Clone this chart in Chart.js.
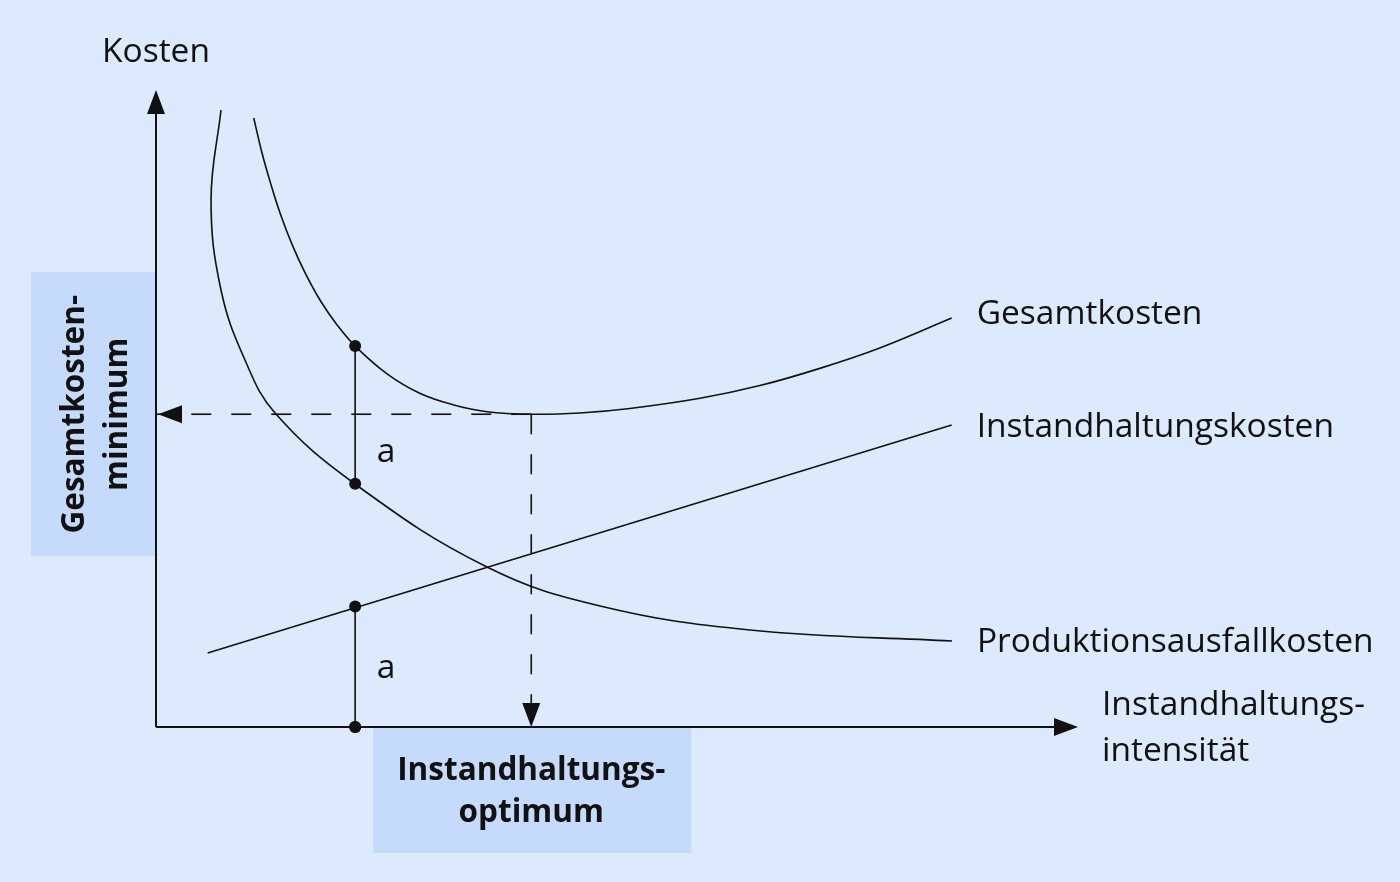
<!DOCTYPE html>
<html>
<head>
<meta charset="utf-8">
<script src="https://cdn.jsdelivr.net/npm/chart.js"></script>
<style>
  body { margin: 0; background: #dde9fd; }
  #wrap { width: 1400px; height: 882px; }
</style>
</head>
<body>
<div id="wrap"><canvas id="chart"></canvas></div>
<script>
// Werte in Diagramm-Einheiten: x = Instandhaltungsintensität (0..100), y = Kosten (0..100)
const produktion = [
  {x: 7.05, y: 96.86}, {x: 5.97, y: 82.73}, {x: 7.05, y: 68.60}, {x: 9.65, y: 57.61},
  {x: 12.91, y: 49.29}, {x: 21.58, y: 38.15}, {x: 35.90, y: 25.12}, {x: 48.16, y: 19.00},
  {x: 64.43, y: 15.23}, {x: 86.33, y: 13.50}
];
const gesamt = [
  {x: 10.6, y: 95.6}, {x: 11.5, y: 90.1}, {x: 12.4, y: 85.5}, {x: 13.5, y: 80.5},
  {x: 14.8, y: 75.6}, {x: 16.2, y: 71.2}, {x: 17.8, y: 67.0}, {x: 19.6, y: 63.2},
  {x: 21.6, y: 59.8}, {x: 25.1, y: 55.4}, {x: 28.6, y: 52.4}, {x: 32.2, y: 50.6},
  {x: 35.9, y: 49.5}, {x: 40.6, y: 49.1}, {x: 46.0, y: 49.3}, {x: 51.4, y: 50.0},
  {x: 59.0, y: 51.6}, {x: 65.5, y: 53.6}, {x: 72.0, y: 56.3}, {x: 78.5, y: 59.5},
  {x: 86.3, y: 64.2}
];
const instandhaltung = [{x: 5.6, y: 11.6}, {x: 86.3, y: 47.4}];

const markerX = 21.6;
const markerY = [59.8, 38.2, 18.9, 0];
const aLabels = [{x: 21.6, y: 43.2}, {x: 21.6, y: 9.2}];
const optimum = {x: 40.7, y: 49.1};

const curveNames = ['Gesamtkosten', 'Instandhaltungskosten', 'Produktionsausfallkosten'];
const yAxisTitle = 'Kosten';
const xAxisTitle = ['Instandhaltungs-', 'intensität'];
const minBoxText = ['Gesamtkosten-', 'minimum'];
const optBoxText = ['Instandhaltungs-', 'optimum'];

const BG = '#dde9fd';
const BOX = '#c6dafc';
const INK = '#111111';
const FONT = '"Open Sans", "Noto Sans", sans-serif';

function arrowHead(ctx, x, y, angle) {
  ctx.save();
  ctx.translate(x, y);
  ctx.rotate(angle);
  ctx.beginPath();
  ctx.moveTo(0, 0);
  ctx.lineTo(-24, -9);
  ctx.lineTo(-24, 9);
  ctx.closePath();
  ctx.fill();
  ctx.restore();
}

const diagram = {
  id: 'diagram',
  beforeDraw(chart) {
    const {ctx, scales: {x: sx, y: sy}} = chart;
    const ox = sx.getPixelForValue(optimum.x);
    const oy = sy.getPixelForValue(optimum.y);
    const x0 = sx.getPixelForValue(0);
    const y0 = sy.getPixelForValue(0);
    ctx.save();
    ctx.fillStyle = BG;
    ctx.fillRect(0, 0, chart.width, chart.height);
    ctx.fillStyle = BOX;
    ctx.fillRect(x0 - 125, oy - 142, 125, 284);
    ctx.fillRect(ox - 158, y0, 318, 126);
    ctx.restore();
  },
  afterDatasetsDraw(chart) {
    const {ctx, chartArea, scales: {x: sx, y: sy}} = chart;
    const x0 = sx.getPixelForValue(0);
    const y0 = sy.getPixelForValue(0);
    const ox = sx.getPixelForValue(optimum.x);
    const oy = sy.getPixelForValue(optimum.y);
    ctx.save();
    ctx.strokeStyle = INK;
    ctx.fillStyle = INK;

    // Achsen
    ctx.lineWidth = 2;
    ctx.beginPath();
    ctx.moveTo(x0, y0);
    ctx.lineTo(x0, chartArea.top + 20);
    ctx.moveTo(x0, y0);
    ctx.lineTo(chartArea.right - 20, y0);
    ctx.stroke();
    arrowHead(ctx, x0, chartArea.top, -Math.PI / 2);
    arrowHead(ctx, chartArea.right, y0, 0);

    // Pfeilspitzen der gestrichelten Linien
    arrowHead(ctx, x0 + 2, oy, Math.PI);
    arrowHead(ctx, ox, y0, Math.PI / 2);

    // Punkt auf der x-Achse über der Achslinie
    ctx.beginPath();
    ctx.arc(sx.getPixelForValue(markerX), y0, 6, 0, Math.PI * 2);
    ctx.fill();

    // Texte
    ctx.font = '33.5px ' + FONT;
    ctx.textAlign = 'center';
    ctx.textBaseline = 'alphabetic';
    ctx.fillText(yAxisTitle, x0, chartArea.top - 28);

    aLabels.forEach(p => {
      ctx.fillText('a', sx.getPixelForValue(p.x) + 31, sy.getPixelForValue(p.y) + 10);
    });

    ctx.textAlign = 'left';
    const labelShift = [6, 12, 11];
    [gesamt, instandhaltung, produktion].forEach((d, i) => {
      const end = d[d.length - 1];
      ctx.fillText(curveNames[i], sx.getPixelForValue(end.x) + 25, sy.getPixelForValue(end.y) + labelShift[i]);
    });
    xAxisTitle.forEach((t, i) => {
      ctx.fillText(t, chartArea.right + 24, y0 - 12 + i * 46);
    });

    ctx.font = 'bold 31.5px ' + FONT;
    ctx.textAlign = 'center';
    optBoxText.forEach((t, i) => {
      ctx.fillText(t, ox, y0 + 53 + i * 42);
    });
    ctx.translate(x0 - 125, oy);
    ctx.rotate(-Math.PI / 2);
    minBoxText.forEach((t, i) => {
      ctx.fillText(t, 0, 53 + i * 43);
    });
    ctx.restore();
  }
};

const curve = {
  showLine: true,
  borderColor: INK,
  borderWidth: 1.6,
  pointRadius: 0,
  fill: false,
  clip: false
};

new Chart(document.getElementById('chart'), {
  type: 'scatter',
  data: {
    datasets: [
      {
        label: 'Punkte',
        data: markerY.map(v => ({x: markerX, y: v})),
        pointRadius: 6,
        pointBackgroundColor: INK,
        pointBorderColor: INK,
        pointBorderWidth: 0,
        showLine: false,
        clip: false
      },
      {...curve, label: 'a oben', data: [{x: markerX, y: markerY[0]}, {x: markerX, y: markerY[1]}]},
      {...curve, label: 'a unten', data: [{x: markerX, y: markerY[2]}, {x: markerX, y: markerY[3]}]},
      {...curve, label: 'Minimum', borderDash: [20, 20],
        data: [{x: optimum.x, y: optimum.y}, {x: 0, y: optimum.y}]},
      {...curve, label: 'Optimum', borderDash: [20, 20],
        data: [{x: optimum.x, y: optimum.y}, {x: optimum.x, y: 0}]},
      {...curve, label: curveNames[0], data: gesamt, tension: 0.4},
      {...curve, label: curveNames[1], data: instandhaltung, tension: 0},
      {...curve, label: curveNames[2], data: produktion, tension: 0.4}
    ]
  },
  options: {
    responsive: true,
    maintainAspectRatio: false,
    animation: false,
    events: [],
    layout: {
      padding: {left: 156, right: 322, top: 90, bottom: 155}
    },
    scales: {
      x: {type: 'linear', min: 0, max: 100, display: false},
      y: {type: 'linear', min: 0, max: 100, display: false}
    },
    plugins: {
      legend: {display: false},
      tooltip: {enabled: false},
      title: {display: false}
    }
  },
  plugins: [diagram]
});
</script>
</body>
</html>
